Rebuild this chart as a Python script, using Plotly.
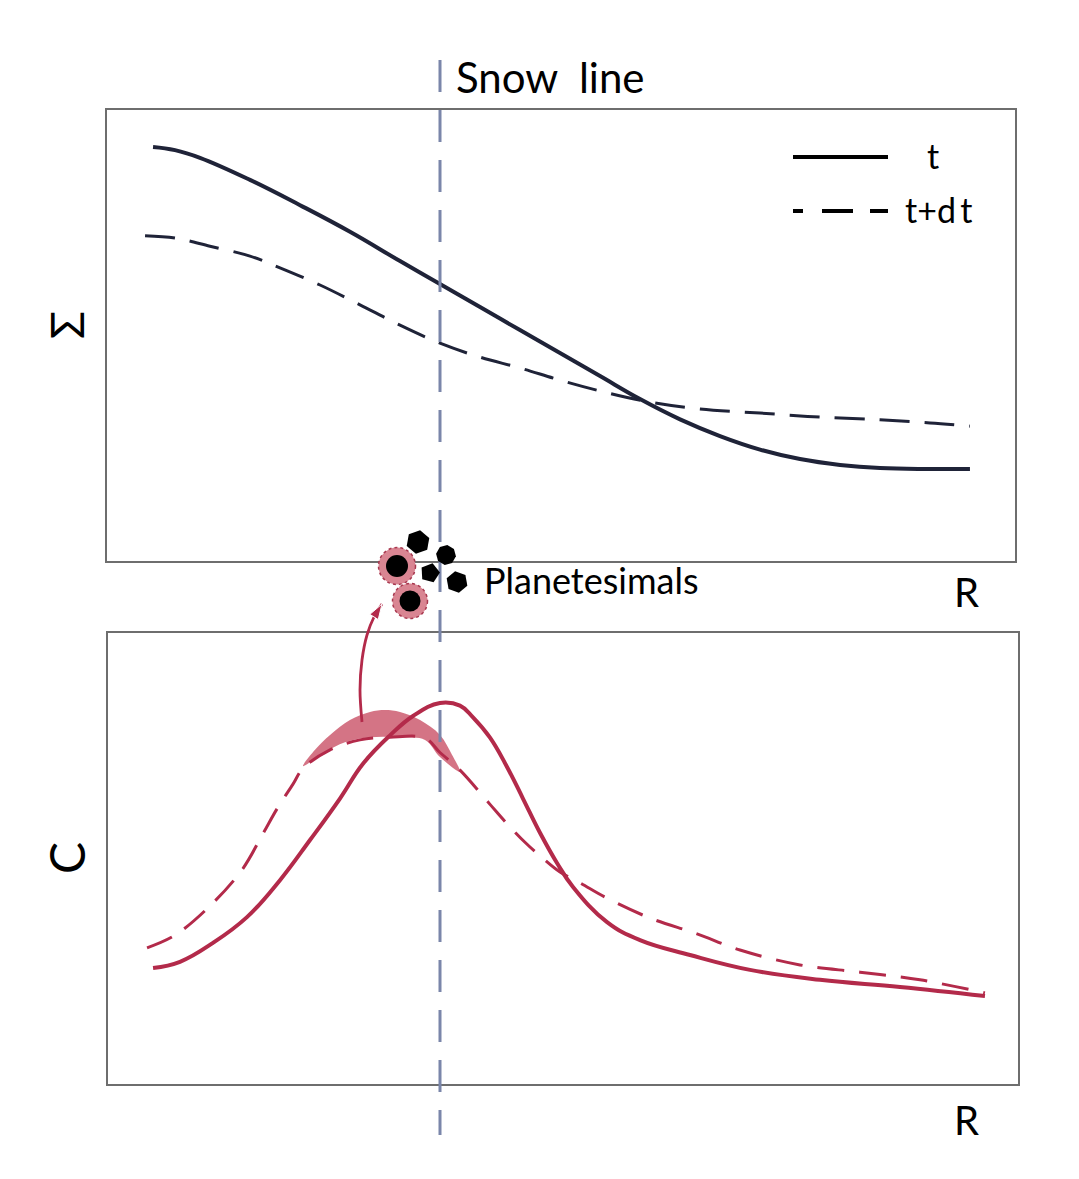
import plotly.graph_objects as go

# surface density, top panel (R and values in 0-100 panel units)
sigma_r_t = [5.07, 7.49, 10.24, 15.75, 21.26, 26.76, 32.27, 36.67, 41.08, 45.48, 49.89,
             54.30, 58.70, 63.11, 67.51, 71.92, 76.32, 80.73, 85.13, 90.64, 95.04]
sigma_t = [91.8, 91.1, 89.4, 84.5, 78.9, 73.0, 66.5, 61.4, 56.3, 51.2, 46.1,
           41.0, 35.9, 31.4, 27.7, 24.7, 22.6, 21.3, 20.6, 20.4, 20.4]
sigma_r_dt = [4.19, 7.49, 11.34, 15.75, 19.05, 23.46, 27.86, 32.27, 36.67, 41.08, 45.48,
              49.89, 54.30, 59.58, 65.31, 71.92, 78.52, 85.13, 90.64, 95.04]
sigma_dt = [72.1, 71.6, 69.8, 67.6, 65.0, 61.2, 56.8, 52.3, 48.3, 45.2, 42.8,
            40.1, 37.7, 35.3, 33.7, 32.8, 31.9, 31.3, 30.6, 29.9]

# concentration, bottom panel
c_r_t = [4.95, 7.91, 11.54, 15.27, 18.90, 22.20, 25.49, 28.02, 30.99, 33.52, 36.48, 38.68,
         40.11, 41.98, 43.85, 45.60, 47.47, 49.34, 51.10, 54.84, 58.46, 63.96, 70.55, 78.24, 87.03, 96.37]
c_t = [25.7, 27.1, 31.3, 37.0, 45.2, 54.1, 63.3, 71.0, 77.3, 81.6, 84.5, 83.9,
       81.3, 76.8, 70.3, 63.3, 55.7, 49.0, 43.7, 35.9, 31.9, 28.6, 25.3, 23.1, 21.5, 19.5]
c_r_dt = [4.29, 7.36, 11.21, 14.73, 17.03, 18.57, 20.33, 21.43, 24.40, 27.69, 30.99, 34.84, 36.48,
          38.68, 41.98, 43.63, 45.82, 47.47, 49.67, 51.87, 54.84, 59.56, 64.73, 69.45, 76.04,
          82.64, 89.23, 96.37]
c_dt = [30.2, 33.0, 39.5, 47.5, 55.5, 61.0, 66.5, 70.0, 74.1, 76.3, 76.9, 76.7, 73.5,
        69.6, 62.0, 58.2, 53.6, 50.6, 47.0, 44.6, 41.2, 36.8, 33.3, 29.7, 26.4,
        24.8, 23.1, 20.2]

# material removed into planetesimals (crescent)
cres_r = [21.43, 22.75, 24.40, 26.59, 28.79, 30.44, 32.09, 34.29, 36.48, 37.80, 38.68,
          36.48, 34.84, 32.09, 28.79, 26.04, 23.85, 21.43]
cres_c = [70.5, 74.1, 77.4, 80.7, 82.5, 82.9, 82.5, 80.7, 77.4, 73.0, 69.2,
          72.5, 76.3, 76.9, 76.9, 75.8, 73.6, 70.5]

# overlay items, page pixel coordinates
snow_x = [440, 440]
snow_y = [60, 1135]
arrow_x = [362, 360, 362, 367, 374, 382]
arrow_y = [722, 690, 660, 635, 617, 604]
pebble_x = [397, 410]
pebble_y = [566, 601]
pebble_size = [37, 35]
rock_x = [418, 446, 397, 430, 457, 410]
rock_y = [542, 555, 566, 573, 582, 601]
rock_size = [24, 20, 22, 20, 22, 21]
rock_symbol = ["hexagon", "octagon", "circle", "pentagon", "hexagon2", "circle"]
legend_x = [793, 888]
legend_y_t = [157, 157]
legend_y_dt = [211, 211]

navy = "#1f2338"
red = "#b32a4a"
snow_col = "#7a86aa"
font = "Lato"

W, H, OFF = 1079, 1179, 8  # page body margin shifts the figure by OFF px


def dom_x(a, b):
    return [(a - OFF) / W, (b - OFF) / W]


def dom_y(top, bottom):
    return [1 - (bottom - OFF) / H, 1 - (top - OFF) / H]


fig = go.Figure()

fig.add_trace(go.Scatter(x=sigma_r_t, y=sigma_t, mode="lines",
                         line=dict(color=navy, width=4, shape="spline", smoothing=1.2),
                         xaxis="x", yaxis="y"))
fig.add_trace(go.Scatter(x=sigma_r_dt, y=sigma_dt, mode="lines",
                         line=dict(color=navy, width=3, shape="spline", dash="30px,15px"),
                         xaxis="x", yaxis="y"))

fig.add_trace(go.Scatter(x=cres_r, y=cres_c, mode="lines", fill="toself", fillcolor="rgba(204,92,112,0.85)",
                         line=dict(width=0, shape="spline"), xaxis="x2", yaxis="y2"))
fig.add_trace(go.Scatter(x=c_r_t, y=c_t, mode="lines",
                         line=dict(color=red, width=4, shape="spline", smoothing=1.2),
                         xaxis="x2", yaxis="y2"))
fig.add_trace(go.Scatter(x=c_r_dt, y=c_dt, mode="lines",
                         line=dict(color=red, width=3, shape="spline", dash="27px,15px"),
                         xaxis="x2", yaxis="y2"))

# overlay: snow line, arrow, planetesimals, legend
fig.add_trace(go.Scatter(x=snow_x, y=snow_y, mode="lines", line=dict(color=snow_col, width=3, dash="32px,18px"),
                         xaxis="x3", yaxis="y3"))
fig.add_trace(go.Scatter(x=arrow_x, y=arrow_y, mode="lines+markers", line=dict(color=red, width=2.8, shape="spline"),
                         marker=dict(symbol="arrow", angleref="previous", color=red, opacity=1,
                                     size=[0, 0, 0, 0, 0, 16]),
                         xaxis="x3", yaxis="y3"))
fig.add_trace(go.Scatter(x=pebble_x, y=pebble_y, mode="markers",
                         marker=dict(color="#d98592", size=pebble_size, opacity=1, line=dict(width=0)),
                         xaxis="x3", yaxis="y3"))
fig.add_trace(go.Scatter(x=rock_x, y=rock_y, mode="markers",
                         marker=dict(color="black", size=rock_size, symbol=rock_symbol, opacity=1,
                                     angle=[10, 30, 0, 15, 20, 0], line=dict(width=0)),
                         xaxis="x3", yaxis="y3"))
fig.add_trace(go.Scatter(x=legend_x, y=legend_y_t, mode="lines", line=dict(color="black", width=4),
                         xaxis="x3", yaxis="y3"))
fig.add_trace(go.Scatter(x=legend_x, y=legend_y_dt, mode="lines",
                         line=dict(color="black", width=4, dash="10px,19px,31px,17px,18px,200px"),
                         xaxis="x3", yaxis="y3"))

for cx, cy, s in zip(pebble_x, pebble_y, pebble_size):
    fig.add_shape(type="circle", xref="x3", yref="y3", xsizemode="pixel", ysizemode="pixel",
                  xanchor=cx, yanchor=cy, x0=-s / 2, x1=s / 2, y0=-s / 2, y1=s / 2,
                  line=dict(color="#a8384f", width=1.5, dash="dot"))

box = dict(showline=True, mirror=True, linecolor="#6e6e6e", linewidth=1.5, showgrid=False,
           zeroline=False, showticklabels=False, ticks="", range=[0, 100], fixedrange=True)
hidden = dict(visible=False, fixedrange=True)

fig.update_layout(
    width=W, height=H, margin=dict(l=0, r=0, t=0, b=0),
    paper_bgcolor="white", plot_bgcolor="rgba(0,0,0,0)", showlegend=False,
    font=dict(family=font, color="black"),
    xaxis=dict(box, domain=dom_x(107, 1015), anchor="y"),
    yaxis=dict(box, domain=dom_y(110, 561), anchor="x"),
    xaxis2=dict(box, domain=dom_x(108, 1018), anchor="y2"),
    yaxis2=dict(box, domain=dom_y(633, 1084), anchor="x2"),
    xaxis3=dict(hidden, domain=[0, 1], range=[OFF, W + OFF], anchor="y3"),
    yaxis3=dict(hidden, domain=[0, 1], range=[H + OFF, OFF], anchor="x3"),
)

labels = [
    dict(text="Snow\u00a0 line", x=454, y=77, size=42, xanchor="left", angle=0),
    dict(text="Planetesimals", x=482, y=580, size=36, xanchor="left", angle=0),
    dict(text="R", x=966, y=592, size=40, xanchor="center", angle=0),
    dict(text="R", x=966, y=1120, size=40, xanchor="center", angle=0),
    dict(text="t", x=933, y=155, size=34, xanchor="center", angle=0),
    dict(text="t+d\u2009t", x=903, y=209, size=34, xanchor="left", angle=0),
    dict(text="Σ", x=66, y=325, size=46, xanchor="center", angle=-90),
    dict(text="C", x=66, y=858, size=48, xanchor="center", angle=-90),
]
for lab in labels:
    fig.add_annotation(text=lab["text"], x=lab["x"], y=lab["y"], xref="x3", yref="y3",
                       xanchor=lab["xanchor"], yanchor="middle", textangle=lab["angle"],
                       showarrow=False, font=dict(size=lab["size"], family=font, color="black"))

fig.write_html("out.html")
